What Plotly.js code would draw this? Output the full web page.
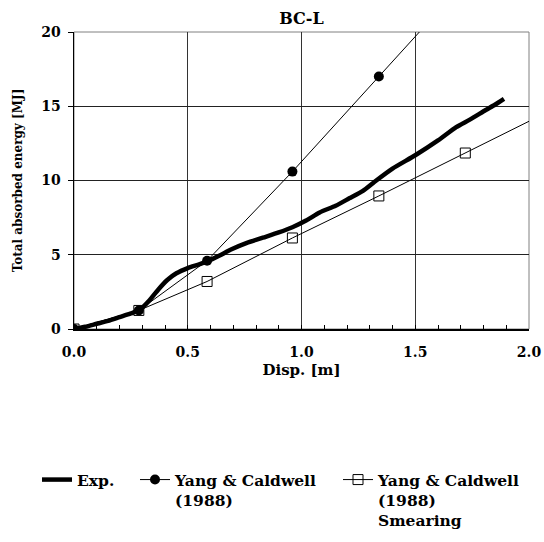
<!DOCTYPE html>
<html>
<head>
<meta charset="utf-8">
<script src="https://cdn.plot.ly/plotly-3.0.1.min.js"></script>
<style>html,body{margin:0;padding:0;background:#fff;}#chart{width:544px;height:542px;}</style>
</head>
<body>
<div id="chart"></div>
<script>
// Experimental curve
var expX = [0, 0.05, 0.10, 0.15, 0.20, 0.25, 0.29, 0.33, 0.37, 0.41, 0.45, 0.50, 0.55, 0.585, 0.64, 0.69, 0.76, 0.83, 0.90, 0.96, 1.02, 1.08, 1.15, 1.21, 1.27, 1.32, 1.40, 1.50, 1.60, 1.68, 1.74, 1.81, 1.85, 1.89];
var expY = [0, 0.15, 0.35, 0.55, 0.80, 1.05, 1.30, 1.90, 2.65, 3.30, 3.75, 4.10, 4.35, 4.55, 4.95, 5.35, 5.80, 6.15, 6.50, 6.85, 7.30, 7.85, 8.30, 8.80, 9.30, 9.90, 10.80, 11.70, 12.70, 13.60, 14.10, 14.75, 15.10, 15.50];
// Yang & Caldwell (1988)
var ycX = [0, 0.285, 0.585, 0.96, 1.34, 1.72];
var ycY = [0, 1.25, 4.60, 10.60, 17.00, 23.40];
// Yang & Caldwell (1988) Smearing
var ycsX = [0, 0.285, 0.585, 0.96, 1.34, 1.72, 2.10];
var ycsY = [0, 1.25, 3.20, 6.13, 8.96, 11.85, 14.75];
var names = ['Exp.', 'Yang &amp; Caldwell<br>(1988)', 'Yang &amp; Caldwell<br>(1988)<br>Smearing'];
var xTickVals = [0, 0.5, 1.0, 1.5, 2.0];
var xTickText = ['0.0', '0.5', '1.0', '1.5', '2.0'];
var yTickVals = [0, 5, 10, 15, 20];
var yTickText = ['0', '5', '10', '15', '20'];

var F = 'DejaVu Serif, serif';
var traces = [
  {x: expX, y: expY, name: names[0], legend: 'legend', mode: 'lines', line: {color: '#000', width: 4.5, shape: 'spline', smoothing: 0.6}},
  {x: ycX, y: ycY, name: names[1], legend: 'legend2', mode: 'lines+markers', line: {color: '#000', width: 1}, marker: {symbol: 'circle', size: 10, color: '#000'}},
  {x: ycsX, y: ycsY, name: names[2], legend: 'legend3', mode: 'lines+markers', line: {color: '#000', width: 1}, marker: {symbol: 'square-open', size: 10, color: '#000', line: {width: 1, color: '#000'}}}
];
function px2x(p) { return (p - 74) / 455; }
var legendY = (329 - 463) / 297;
function leg(px) {
  return {
    orientation: 'h', x: px2x(px), xanchor: 'left', y: legendY, yanchor: 'top',
    valign: 'top', font: {family: F, size: 15.5, color: '#000', weight: 'bold'}, bgcolor: 'rgba(0,0,0,0)',
    itemwidth: 30
  };
}
var layout = {
  width: 544, height: 542,
  margin: {l: 74, r: 15, t: 32, b: 213, autoexpand: false},
  paper_bgcolor: '#fff', plot_bgcolor: '#fff',
  showlegend: true,
  title: {text: 'BC-L', font: {family: F, size: 16, color: '#000', weight: 'bold'}, xref: 'paper', x: 0.5, xanchor: 'center', yref: 'container', y: 1 - 18/542, yanchor: 'middle'},
  xaxis: {
    range: [0, 2.0], tickvals: xTickVals, ticktext: xTickText,
    ticks: 'inside', ticklen: 4, tickcolor: '#000', ticklabelstandoff: 10,
    minor: {dtick: 0.1, tick0: 0, ticks: 'inside', ticklen: 4, tickcolor: '#000', showgrid: false},
    showgrid: true, gridcolor: '#333', gridwidth: 1,
    showline: true, linecolor: '#000', linewidth: 1.5, zeroline: false,
    tickfont: {family: F, size: 14, color: '#000', weight: 'bold'},
    title: {text: 'Disp. [m]', font: {family: F, size: 15, color: '#000', weight: 'bold'}, standoff: 5}
  },
  yaxis: {
    range: [0, 20], tickvals: yTickVals, ticktext: yTickText,
    ticks: 'outside', ticklen: 5, tickcolor: '#000', ticklabelstandoff: 4,
    showgrid: true, gridcolor: '#222', gridwidth: 1,
    showline: true, linecolor: '#000', linewidth: 1.5, zeroline: false,
    tickfont: {family: F, size: 14, color: '#000', weight: 'bold'},
    title: {text: 'Total absorbed energy [MJ]', font: {family: F, size: 12, color: '#000', weight: 'bold'}, standoff: 16}
  },
  legend: leg(37),
  legend2: leg(135),
  legend3: leg(338),
  shapes: [
    {type: 'rect', xref: 'paper', yref: 'paper', x0: 0, x1: 1, y0: 0, y1: 1, line: {color: '#808080', width: 1}, layer: 'below'}
  ]
};
Plotly.newPlot('chart', traces, layout, {displayModeBar: false, staticPlot: true});
</script>
</body>
</html>
